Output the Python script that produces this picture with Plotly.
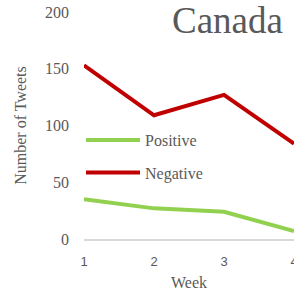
import plotly.graph_objects as go

weeks = [1, 2, 3, 4]
positive = [35, 27, 24, 7]
negative = [153, 109, 127, 84]
y_ticks = [0, 50, 100, 150, 200]

GRAY = "#595959"
SERIF = "Liberation Serif"

PLOT_W = 210
PLOT_H = 227

fig = go.Figure()
fig.add_trace(go.Scatter(x=weeks, y=positive, mode="lines", name="Positive",
                         line=dict(color="#92D050", width=4), legend="legend"))
fig.add_trace(go.Scatter(x=weeks, y=negative, mode="lines", name="Negative",
                         line=dict(color="#C00000", width=4), legend="legend2"))

legend_common = dict(font=dict(family=SERIF, size=16, color=GRAY), bgcolor="rgba(0,0,0,0)",
                     xanchor="left", yanchor="middle", itemwidth=54)
fig.update_layout(
    width=294, height=295,
    margin=dict(l=84, r=0, t=12, b=56, autoexpand=False),
    paper_bgcolor="white", plot_bgcolor="white",
    showlegend=True,
    legend=dict(x=-3 / PLOT_W, y=(239 - 140) / PLOT_H, **legend_common),
    legend2=dict(x=-3 / PLOT_W, y=(239 - 172.5) / PLOT_H, **legend_common),
    xaxis=dict(range=[1, 4], tickvals=weeks, ticktext=[str(w) for w in weeks],
               showgrid=False, zeroline=False, showline=True, linecolor="#D9D9D9", linewidth=1.5,
               ticks="", ticklabelstandoff=10, automargin=False, ticklabeloverflow="allow",
               tickfont=dict(family="Liberation Sans", size=13, color=GRAY),
               title=dict(text="Week", font=dict(family=SERIF, size=16, color=GRAY), standoff=8)),
    yaxis=dict(range=[0, 200], tickvals=y_ticks, showgrid=False, zeroline=False,
               showline=False, ticks="", ticklabelstandoff=14, automargin=False,
               ticklabeloverflow="allow",
               tickfont=dict(family=SERIF, size=16, color=GRAY),
               title=dict(text="Number of Tweets", font=dict(family=SERIF, size=16, color=GRAY), standoff=14)),
    annotations=[dict(text="Canada", xref="paper", yref="paper", x=(285 - 84) / PLOT_W, y=1.0,
                      xanchor="right", yanchor="middle", yshift=-8, showarrow=False,
                      font=dict(family=SERIF, size=37, color=GRAY))],
)
fig.write_html("out.html", config={"displayModeBar": False},
               post_script="document.body.style.margin='0';")
